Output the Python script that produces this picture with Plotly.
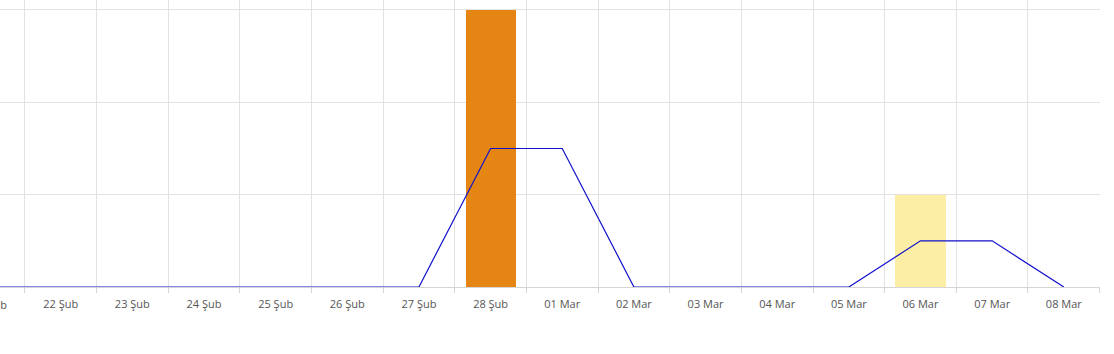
import plotly.graph_objects as go

categories = ["21 Şub", "22 Şub", "23 Şub", "24 Şub", "25 Şub", "26 Şub", "27 Şub",
              "28 Şub", "01 Mar", "02 Mar", "03 Mar", "04 Mar", "05 Mar", "06 Mar",
              "07 Mar", "08 Mar"]
bar_values = [0, 0, 0, 0, 0, 0, 0, 3, 0, 0, 0, 0, 0, 1, 0, 0]
bar_colors = ["#E58614" if v >= 3 else "#FCEEA4" for v in bar_values]
line_values = [0, 0, 0, 0, 0, 0, 0, 1.5, 1.5, 0, 0, 0, 0, 0.5, 0.5, 0]

x_range = [0.153, 15.505]
y_range = [0, 3.108]

fig = go.Figure()
fig.add_trace(go.Bar(x=categories, y=bar_values, marker=dict(color=bar_colors, line=dict(width=0)),
                     width=0.70, showlegend=False, hoverinfo="skip"))
fig.add_trace(go.Scatter(x=categories, y=line_values, mode="lines",
                         line=dict(color="#1010CC", width=1.2), showlegend=False))

label_font = dict(family="Open Sans, Segoe UI, sans-serif", size=11, color="#555555")

fig.update_layout(
    width=1114, height=354,
    margin=dict(l=0, r=14, t=0, b=67),
    paper_bgcolor="white", plot_bgcolor="white",
    bargap=0,
    xaxis=dict(type="category", range=x_range, tickson="boundaries",
               showgrid=True, gridcolor="#E2E2E2", gridwidth=1,
               ticks="outside", ticklen=5, tickcolor="#D5D5D5",
               ticklabelstandoff=7,
               showline=True, linecolor="#D5D5D5", linewidth=1,
               tickfont=label_font, fixedrange=True),
    yaxis=dict(range=y_range, dtick=1, showgrid=True, gridcolor="#E2E2E2",
               showticklabels=False, zeroline=False, fixedrange=True),
)

# cut-off label of the first category (outside the visible range)
first_pos = (0 - x_range[0]) / (x_range[1] - x_range[0])
fig.add_annotation(x=first_pos, y=0, xref="paper", yref="paper", text=categories[0],
                   showarrow=False, xanchor="center", yanchor="top", yshift=-8,
                   font=label_font)

fig.write_html("out.html")
